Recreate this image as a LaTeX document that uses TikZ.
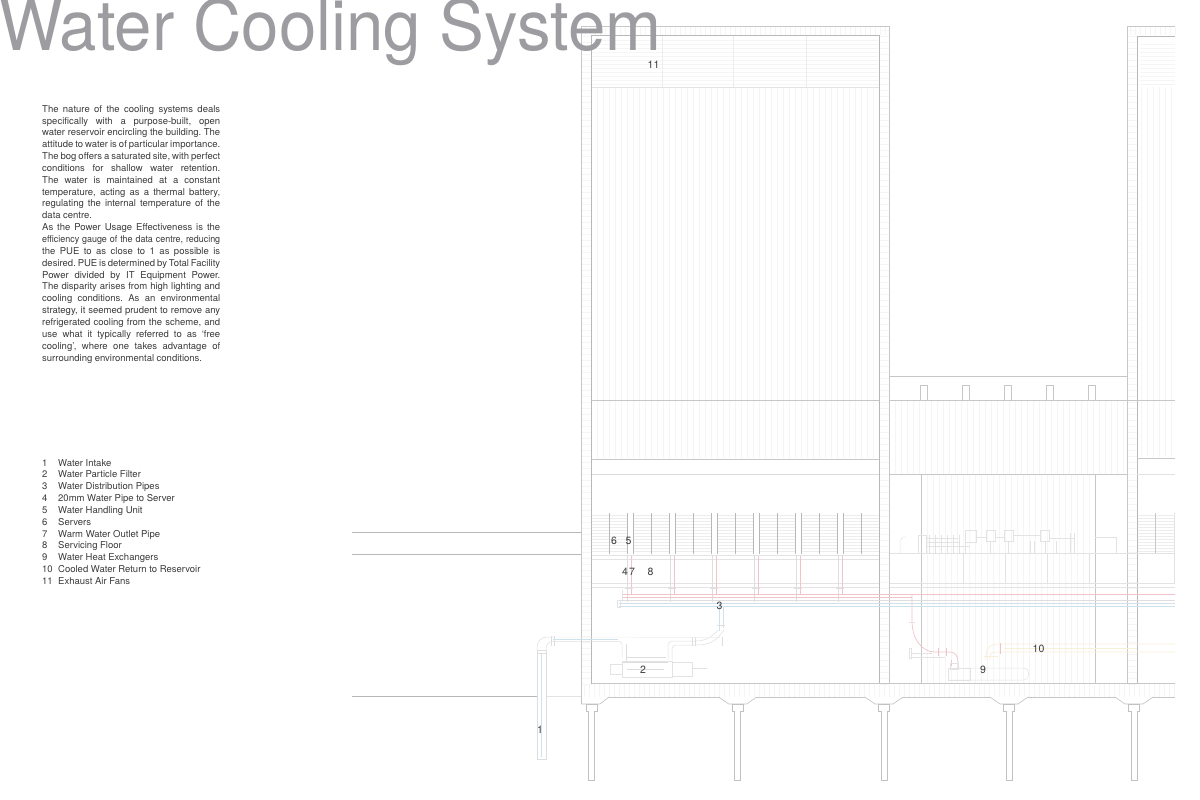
\documentclass[tikz,border=0pt]{standalone}
\usepackage{fontspec}
\setmainfont{TeX Gyre Heros}
\newfontfamily\titlefont[FakeStretch=0.96]{TeX Gyre Heros}
\newfontfamily\narrowfont[FakeStretch=0.94]{TeX Gyre Heros}
\definecolor{titlegrey}{HTML}{9C9CA1}
\definecolor{bodyink}{HTML}{3A3A3A}
\definecolor{hotpipe}{HTML}{F0C4C8}
\definecolor{coldpipe}{HTML}{CFE2EC}
\definecolor{wastepipe}{HTML}{F8EFD9}
\newcommand{\tightwords}{\frenchspacing\hyphenpenalty=10000\tolerance=9999\spaceskip=.26em plus 1em minus .13em\relax}
\tikzset{
	outline/.style={draw=black!22,line width=0.7pt},
	groundline/.style={draw=black!28,line width=0.6pt},
	thinline/.style={draw=black!11,line width=0.5pt},
	hatchline/.style={draw=black!4,line width=0.5pt},
	denseline/.style={draw=black!7,line width=0.5pt},
	pile/.style={draw=black!24,line width=0.6pt,fill=white},
	pipeline/.style={draw=black!13,line width=0.5pt},
	hotline/.style={draw=hotpipe,line width=0.7pt},
	coldline/.style={draw=coldpipe,line width=0.7pt},
	wasteline/.style={draw=wastepipe,line width=0.7pt},
	marker/.style={text=bodyink,inner sep=0pt,font=\fontsize{10.5}{12}\selectfont},
	legendtext/.style={text=bodyink,inner sep=0pt,anchor=base west,font=\fontsize{9.5}{11}\selectfont},
	bodytext/.style={text=bodyink,inner sep=0pt,anchor=north west,text width=178pt,align=justify,font=\fontsize{9.5}{11.85}\selectfont}
}
\begin{document}
\begin{tikzpicture}[x=1pt,y=-1pt]
	\useasboundingbox (0,0) rectangle (1200,800);
	\foreach \xpos in {597,603,...,875} {\draw[hatchline] (\xpos,87) -- (\xpos,458);}
	\foreach \xpos in {895,901,...,1125} {\draw[hatchline] (\xpos,401) -- (\xpos,474);}
	\foreach \xpos in {1141,1147,...,1173} {\draw[hatchline] (\xpos,87) -- (\xpos,457);}
	\foreach \xpos in {927,933,...,1093} {\draw[hatchline] (\xpos,475) -- (\xpos,683);}
	\foreach \ypos in {30,36,...,684} {
		\draw[hatchline] (581.5,\ypos) -- (591.5,\ypos);
		\draw[hatchline] (879.5,\ypos) -- (889.5,\ypos);
		\draw[hatchline] (1127.5,\ypos) -- (1137,\ypos);
	}
	\foreach \xpos in {584,589,...,1175} {\draw[hatchline] (\xpos,684) -- (\xpos,697);}
	\foreach \xpos in {585,590,...,885} {\draw[hatchline] (\xpos,27) -- (\xpos,35);}
	\foreach \xpos in {1130,1135,...,1175} {\draw[hatchline] (\xpos,27) -- (\xpos,35);}
	\foreach \ypos in {40,44,...,84} {\draw[hatchline] (592,\ypos) -- (879,\ypos);}
	\foreach \ypos in {44,48,...,84} {\draw[hatchline] (1140,\ypos) -- (1175,\ypos);}
	\foreach \ypos in {515,518,...,552} {
		\draw[denseline] (592,\ypos) -- (879,\ypos);
		\draw[denseline] (1137,\ypos) -- (1174,\ypos);
	}
	\foreach \xpos in {627.3,669.3,711.3,753.3,795.3,837.3} {\fill[white] (\xpos,513) rectangle (\xpos+6,554);}
	\foreach \xpos in {609.3,627.3,633.3,651.3,669.3,675.3,693.3,711.3,717.3,735.3,753.3,759.3,777.3,795.3,801.3,819.3,837.3,843.3,861.3} {\draw[groundline] (\xpos,513) -- (\xpos,554);}
	\draw[outline] (1155,513) -- (1155,554);

	\draw[outline] (581.5,697) -- (581.5,26) -- (889.5,26) -- (889.5,684);
	\draw[outline,draw=black!28] (591.5,684) -- (591.5,35.5) -- (879.5,35.5) -- (879.5,684);
	\draw[outline] (1175,26) -- (1127.5,26) -- (1127.5,684);
	\draw[outline,draw=black!28] (1175,36) -- (1137,36) -- (1137,684);
	\draw[thinline] (592,87) -- (879,87);
	\foreach \xpos in {662.7,733,806.7} {\draw[thinline,draw=black!7] (\xpos,36) -- (\xpos,87);}
	\draw[outline] (591.5,683.5) -- (1175,683.5);
	\draw[outline] (581.5,697) -- (1175,697);
	\draw[outline] (889.5,376) -- (1127.5,376);
	\draw[outline] (592,400) -- (879,400);
	\draw[outline] (889.5,400) -- (1175,400);
	\draw[outline] (592,459) -- (879,459);
	\draw[outline,draw=black!14] (592,474) -- (879,474);
	\draw[outline] (889.5,474) -- (1127.5,474);
	\draw[outline] (1137,458) -- (1175,458);
	\draw[thinline] (1137,474) -- (1175,474);
	\foreach \xpos in {924,966,1008,1050,1092} {\draw[outline] (\xpos-3.2,400) rectangle (\xpos+3.2,385.5);}
	\draw[outline] (921.7,474) -- (921.7,683.5);
	\draw[outline] (1095,474) -- (1095,683.5);

	\draw[groundline] (352,532) -- (581,532);
	\draw[groundline] (352,554) -- (581,554);
	\draw[groundline] (352,696) -- (537,696);
	\draw[thinline] (546,696) -- (581,696);

	\foreach \ypos in {555,559,583,587} {\draw[thinline] (592,\ypos) -- (879,\ypos);}
	\foreach \ypos in {553,583,587} {\draw[thinline] (889.5,\ypos) -- (1175,\ypos);}
	\foreach \xpos in {963,1005,1047,1089} {\draw[thinline] (\xpos,553) -- (\xpos,583);}
	\draw[thinline] (1174,513) -- (1174,583);

	\draw[thinline] (900,553) -- (900,541) -- (903,537) -- (906,537);
	\draw[thinline] (918,553) rectangle (926,535);
	\foreach \xpos in {929,935,941,947,953,959,965} {\draw[thinline] (\xpos,553) -- (\xpos,535);}
	\draw[thinline] (926,546) -- (970,546) (926,542) -- (960,542) (926,538) -- (958,538);
	\draw[thinline] (965,542) rectangle (976,530);
	\draw[thinline] (986,541) rectangle (995,530);
	\draw[thinline] (1004,541) rectangle (1013,530);
	\draw[thinline] (1040,541) rectangle (1049,530);
	\draw[thinline] (976,537) -- (986,537) (995,537) -- (1004,537) (1013,535) -- (1040,535);
	\foreach \xpos in {990,1008,1030,1034,1045,1056,1070,1074} {\draw[thinline] (\xpos,553) -- (\xpos,541);}
	\draw[thinline] (1049,538) -- (1074,538) (1070,533) -- (1070,553) (1074,533) -- (1074,553);
	\draw[thinline] (1095,537) -- (1116,537) -- (1116,553);

	\foreach \xpos in {627,670,712,754,796,838} {
		\draw[pipeline] (\xpos,555) -- (\xpos,602);
		\draw[hotline] (\xpos+4,556) -- (\xpos+4,594.5);
		\draw[pipeline] (\xpos-2,588) -- (\xpos+6,588);
	}
	\draw[hotline] (622,594.5) -- (1175,594.5);
	\draw[hotline] (622,597) -- (912,597);
	\draw[thinline] (622,590) -- (622,600);
	\draw[pipeline] (619,600) -- (1175,600);
	\draw[coldline] (619,603) -- (1175,603);
	\draw[coldline] (619,606) -- (1175,606);
	\draw[thinline] (617,600) rectangle (620,607);

	\draw[coldline] (719,606) -- (719,631);
	\draw[coldline] (723,606) -- (723,628);
	\draw[pipeline] (717,625) -- (725,625);
	\draw[pipeline] (718,630) .. controls (712,637) and (705,641) .. (696,641) -- (671,641) -- (668,644) -- (668,660);
	\draw[pipeline] (724,630) .. controls (716,642) and (708,645) .. (696,645) -- (675,645) -- (672,648) -- (672,660);
	\draw[pipeline] (692,637) -- (692,646) (695,637) -- (695,646) (722,637) -- (722,646);
	\draw[pipeline] (537,650) -- (537,648) .. controls (537,641) and (541,637) .. (548,637) -- (553,637);
	\draw[pipeline] (546,650) .. controls (546,645) and (548,641.5) .. (553,641.5) -- (620,641.5) -- (622,644) -- (622,657);
	\draw[coldline] (553,639.5) -- (618,639.5);
	\draw[thinline,draw=black!7] (553,637) -- (720,637.5);
	\draw[pipeline] (551,636) -- (551,646) (554,636) -- (554,646);
	\draw[pipeline] (537,650) rectangle (546,653);
	\draw[pipeline] (537.5,653) -- (537.5,759) -- (546,759) -- (546,653);
	\draw[coldline] (541.5,653) -- (541.5,757);
	\draw[pipeline] (626,644) -- (626,661);
	\draw[pipeline] (626,657) -- (666,657);
	\draw[pipeline] (622,662) -- (668,662);
	\draw[thinline] (610,664) rectangle (622,674);
	\draw[thinline] (622,661) rectangle (672,677);
	\draw[thinline] (672,662) rectangle (692,676);
	\draw[thinline] (692,668) -- (707,668);
	\draw[pipeline] (627,669) -- (664,669);

	\draw[hotline] (912,594.5) -- (912,621) .. controls (912,638) and (921,652) .. (935,652) -- (950,652) .. controls (955,652) and (958,656) .. (958,662) -- (958,669);
	\draw[thinline] (909,622) -- (915,622);
	\draw[hotline] (938,648) -- (938,656) (946,648) -- (946,656) (951,660) -- (951,666);
	\draw[thinline] (909,648) -- (909,658) -- (911,658) -- (911,648) -- cycle;
	\draw[thinline] (911,653) -- (932,653) (911,657) -- (945,657);
	\draw[thinline] (948,680) rectangle (970,668);
	\draw[thinline] (966,668) -- (1023,668) .. controls (1031,668) and (1031,680) .. (1023,680) -- (948,680);
	\draw[thinline] (950,663) rectangle (958,669);
	\draw[wasteline] (986,660) -- (986,655) .. controls (986,648) and (991,644) .. (998,644) -- (1175,644);
	\draw[wasteline] (990,660) -- (990,656) .. controls (990,653) and (993,652) .. (998,652) -- (1175,652);
	\draw[hotline] (1000,643) -- (1000,654);
	\draw[wasteline] (984,656) -- (998,656);
	\draw[wasteline] (1004,648) -- (1137,648);

	\foreach \xpos in {737.7,884,1009,1134} {
		\draw[pile] (\xpos-19,697) -- (\xpos-9,704) -- (\xpos+9,704) -- (\xpos+19,697);
		\draw[pile] (\xpos-5.5,704) rectangle (\xpos+5.5,711);
		\draw[pile] (\xpos-3,711) -- (\xpos-3,780) -- (\xpos+3,780) -- (\xpos+3,711);
	}
	\draw[pile] (581.5,697) -- (581.5,704) -- (600,704) -- (609,697);
	\draw[pile] (585.8,704) rectangle (596.8,711);
	\draw[pile] (588.3,711) -- (588.3,780) -- (594.3,780) -- (594.3,711);

	\node[anchor=base west,inner sep=0pt,text=titlegrey,font=\titlefont\fontsize{70}{70}\selectfont] (maintitle) at (-1,51) {Water Cooling System};

	\node[bodytext] (intro) at (42,105) {\tightwords The nature of the cooling systems deals\linebreak
		specifically with a purpose-built, open\linebreak
		water reservoir encircling the building. The\linebreak
		attitude to water is of particular importance.\linebreak
		The bog offers a saturated site, with perfect\linebreak
		conditions for shallow water retention.\linebreak
		The water is maintained at a constant\linebreak
		temperature, acting as a thermal battery,\linebreak
		regulating the internal temperature of the\linebreak
		data centre.\par
		As the Power Usage Effectiveness is the\linebreak
		{\narrowfont efficiency gauge of the data centre, reducing}\linebreak
		the PUE to as close to 1 as possible is\linebreak
		desired. PUE is determined by Total Facility\linebreak
		Power divided by IT Equipment Power.\linebreak
		The disparity arises from high lighting and\linebreak
		cooling conditions. As an environmental\linebreak
		strategy, it seemed prudent to remove any\linebreak
		refrigerated cooling from the scheme, and\linebreak
		use what it typically referred to as `free\linebreak
		cooling', where one takes advantage of\linebreak
		surrounding environmental conditions.};

	\foreach \num/\entry [count=\row from 0] in {1/Water Intake,2/Water Particle Filter,3/Water Distribution Pipes,4/20mm Water Pipe to Server,5/Water Handling Unit,6/Servers,7/Warm Water Outlet Pipe,8/Servicing Floor,9/Water Heat Exchangers,10/Cooled Water Return to Reservoir,11/Exhaust Air Fans} {
		\node[legendtext] (num\row) at (42,466+11.85*\row) {\num};
		\node[legendtext] (entry\row) at (58,466+11.85*\row) {\entry};
	}

	\node[marker] (label1) at (540,730) {1};
	\node[marker] (label2) at (643,670) {2};
	\node[marker] (label3) at (719.5,605.5) {3};
	\node[marker] (label4) at (625,572) {4};
	\node[marker] (label5) at (628.5,541) {5};
	\node[marker] (label6) at (614,541) {6};
	\node[marker] (label7) at (632,572) {7};
	\node[marker] (label8) at (650.5,572) {8};
	\node[marker] (label9) at (983,669.5) {9};
	\node[marker] (label10) at (1038.5,648.5) {10};
	\node[marker] (label11) at (653.5,64.5) {11};
\end{tikzpicture}
\end{document}
